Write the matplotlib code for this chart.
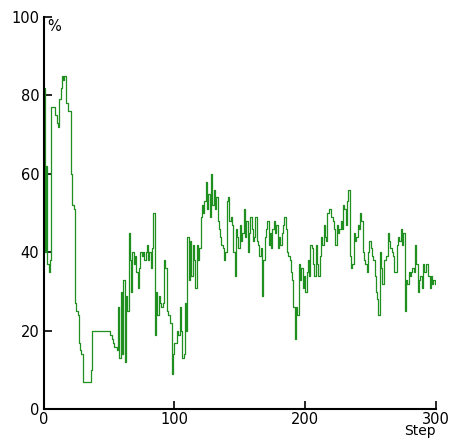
import numpy as np
import matplotlib
matplotlib.use("Agg")
import matplotlib.pyplot as plt

# percentage per step, read step by step
pct = [
    82, 40, 62, 37, 35, 38, 77, 77, 77, 75,
    73, 72, 79, 82, 85, 84, 85, 78, 78, 76,
    76, 60, 52, 51, 27, 25, 24, 17, 15, 14,
    7, 7, 7, 7, 7, 7, 10, 20, 20, 20,
    20, 20, 20, 20, 20, 20, 20, 20, 20, 20,
    20, 19, 18, 17, 16, 16, 15, 26, 13, 30,
    14, 33, 12, 29, 25, 45, 38, 30, 40, 37,
    39, 35, 31, 36, 40, 39, 40, 38, 40, 42,
    38, 40, 36, 41, 50, 19, 30, 24, 29, 27,
    26, 27, 38, 36, 25, 24, 24, 22, 9, 14,
    17, 17, 20, 19, 26, 20, 13, 14, 27, 20,
    44, 33, 43, 34, 42, 38, 31, 42, 38, 41,
    49, 52, 50, 53, 58, 51, 55, 49, 60, 52,
    56, 51, 54, 48, 46, 44, 42, 41, 38, 40,
    53, 54, 48, 49, 47, 40, 34, 46, 44, 41,
    47, 43, 45, 51, 44, 48, 40, 45, 49, 46,
    43, 44, 49, 43, 42, 39, 41, 29, 38, 44,
    46, 48, 42, 45, 41, 46, 48, 45, 47, 41,
    44, 42, 45, 47, 49, 46, 40, 39, 38, 35,
    33, 26, 18, 26, 24, 37, 33, 36, 31, 34,
    30, 35, 38, 34, 42, 41, 37, 34, 42, 37,
    34, 39, 44, 42, 47, 44, 43, 50, 51, 51,
    49, 48, 46, 42, 47, 45, 46, 48, 46, 52,
    51, 47, 53, 56, 39, 36, 37, 45, 43, 44,
    47, 46, 50, 48, 40, 38, 37, 35, 40, 43,
    41, 39, 38, 34, 30, 28, 24, 40, 36, 32,
    38, 38, 39, 45, 43, 41, 40, 39, 35, 35,
    42, 44, 43, 46, 42, 45, 25, 33, 32, 35,
    34, 35, 36, 35, 42, 37, 30, 33, 34, 31,
    37, 35, 37, 37, 34, 31, 34, 32, 33, 32,
]
steps = np.arange(len(pct))

y_ticks = [0, 20, 40, 60, 80, 100]
x_ticks = [0, 100, 200, 300]

fig = plt.figure(figsize=(4.5, 4.41), dpi=100)
ax = fig.add_axes([0.0967, 0.0719, 0.8723, 0.8896])

ax.plot(steps, pct, color="#1f8f1f", linewidth=0.9, drawstyle="steps-post")

ax.set_xlim(0, 300)
ax.set_ylim(0, 100)
ax.set_xticks(x_ticks)
ax.set_yticks(y_ticks)

for side in ["top", "right"]:
    ax.spines[side].set_visible(False)
for side in ["left", "bottom"]:
    ax.spines[side].set_linewidth(1.5)
    ax.spines[side].set_color("black")

ax.tick_params(axis="both", direction="in", length=6, width=1.2,
               labelsize=10.5, colors="black")
ax.tick_params(axis="y", pad=3)
ax.tick_params(axis="x", pad=2)

ax.text(0.01, 0.995, "%", transform=ax.transAxes, ha="left", va="top",
        fontsize=10.5)
ax.text(1.0, -0.038, "Step", transform=ax.transAxes, ha="right", va="top",
        fontsize=10)

fig.savefig("out.png", dpi=100)
